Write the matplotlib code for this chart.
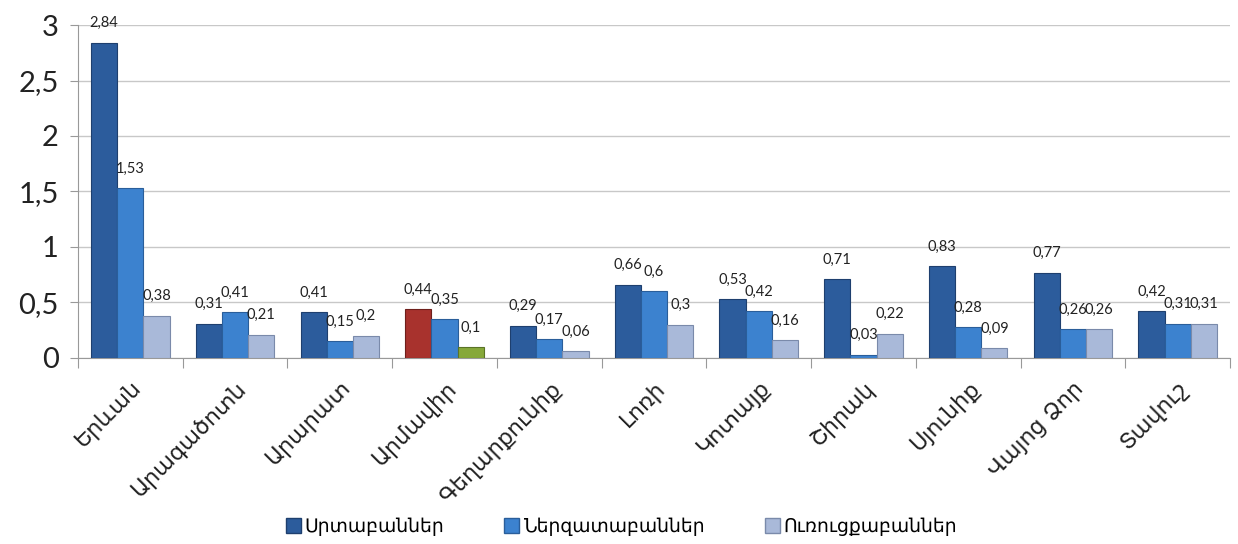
import matplotlib
matplotlib.use("Agg")
import matplotlib.pyplot as plt
import numpy as np

categories = ["Երևան", "Արագածոտն", "Արարատ", "Արմավիր", "Գեղարքունիք", "Լոռի",
              "Կոտայք", "Շիրակ", "Սյունիք", "Վայոց Ձոր", "Տավուշ"]
series_names = ["Սրտաբաններ", "Ներզատաբաններ", "Ուռուցքաբաններ"]
cardio = [2.84, 0.31, 0.41, 0.44, 0.29, 0.66, 0.53, 0.71, 0.83, 0.77, 0.42]
endo = [1.53, 0.41, 0.15, 0.35, 0.17, 0.60, 0.42, 0.03, 0.28, 0.26, 0.31]
onco = [0.38, 0.21, 0.20, 0.10, 0.06, 0.30, 0.16, 0.22, 0.09, 0.26, 0.31]
value_labels = [
    ["2,84", "0,31", "0,41", "0,44", "0,29", "0,66", "0,53", "0,71", "0,83", "0,77", "0,42"],
    ["1,53", "0,41", "0,15", "0,35", "0,17", "0,6", "0,42", "0,03", "0,28", "0,26", "0,31"],
    ["0,38", "0,21", "0,2", "0,1", "0,06", "0,3", "0,16", "0,22", "0,09", "0,26", "0,31"],
]
yticks = [0, 0.5, 1, 1.5, 2, 2.5, 3]
ytick_labels = ["0", "0,5", "1", "1,5", "2", "2,5", "3"]

colors = ["#2C5C9C", "#3C82CF", "#A9B9D9"]
edges = ["#1E3F6E", "#2A5E9A", "#7A8AAA"]
special = {(0, 3): ("#A8322D", "#6E1F1B"), (2, 3): ("#86A83A", "#5A7326")}

fig = plt.figure(figsize=(12.38, 5.44), dpi=100)
ax = fig.add_axes([0.063, 0.342, 0.9305, 0.612])

x = np.arange(len(categories))
w = 0.25
data = [cardio, endo, onco]
for s, vals in enumerate(data):
    for i, v in enumerate(vals):
        fc, ec = special.get((s, i), (colors[s], edges[s]))
        xpos = x[i] + (s - 1) * w
        ax.bar(xpos, v, width=w, color=fc, edgecolor=ec, linewidth=0.8, zorder=3)
        ax.annotate(value_labels[s][i], (xpos, v), xytext=(0, 14), textcoords="offset points",
                    ha="center", va="center", fontsize=10.5, color="#222222",
                    family=["Lato", "DejaVu Sans"], zorder=5)

ax.set_xlim(-0.5, len(categories) - 0.5)
ax.set_ylim(0, 3)
ax.set_yticks(yticks)
ax.set_yticklabels(ytick_labels, fontsize=21, family=["Lato", "DejaVu Sans"], color="#222222")
ax.yaxis.grid(True, color="#C8C8C8", linewidth=1, zorder=0)
ax.set_axisbelow(True)
for sp in ["top", "right"]:
    ax.spines[sp].set_visible(False)
ax.spines["left"].set_color("#999999")
ax.spines["bottom"].set_color("#999999")
ax.tick_params(axis="y", length=6, color="#999999", pad=8)

ax.set_xticks(np.arange(len(categories) + 1) - 0.5, minor=False)
ax.set_xticklabels([])
ax.tick_params(axis="x", which="major", length=7, color="#999999", direction="out")
ax.set_xticks(x, minor=True)
ax.set_xticklabels(categories, minor=True, rotation=45, ha="right", rotation_mode="anchor",
                   fontsize=16, family=["DejaVu Sans"], color="#222222")
ax.tick_params(axis="x", which="minor", length=0, pad=14)

from matplotlib.patches import Patch
handles = [Patch(facecolor=colors[s], edgecolor=edges[s]) for s in range(3)]
fig.legend(handles, series_names, loc="center", bbox_to_anchor=(0.502, 0.032), ncol=3,
           frameon=False, handlelength=0.8, handleheight=0.8,
           handletextpad=0.2, columnspacing=3.2, prop={"family": "DejaVu Sans", "size": 13.5})

fig.savefig("out.png", dpi=100)
